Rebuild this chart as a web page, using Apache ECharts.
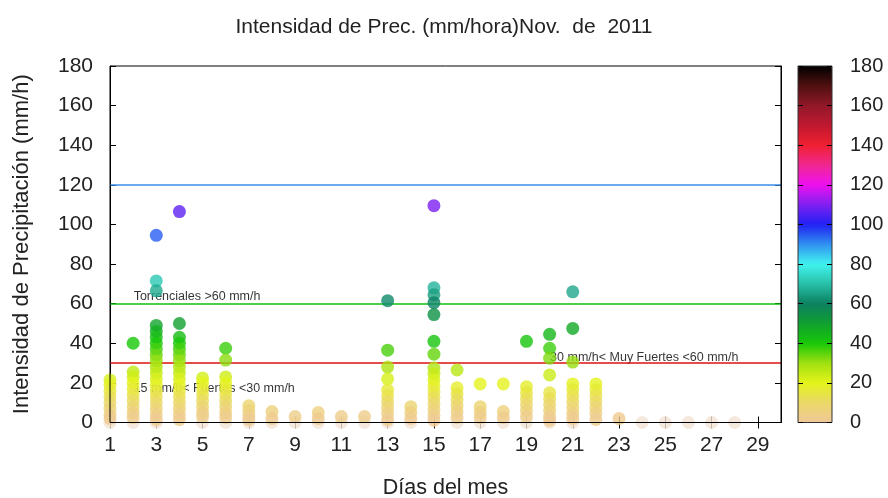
<!DOCTYPE html>
<html>
<head>
<meta charset="utf-8">
<script src="https://cdn.jsdelivr.net/npm/echarts@6/dist/echarts.min.js"></script>
<style>
html,body{margin:0;padding:0;background:#fff;}
#chart{width:888px;height:498px;}
</style>
</head>
<body>
<div id="chart"></div>
<script>
// ---- data (mm/h), one array per day of the month ----
const day01 = [21.5, 19, 16, 13, 10, 7, 4, 2];
const day02 = [40, 25.5, 23, 20, 17, 14, 11, 8, 5, 2.5];
const day03 = [94.5, 71.5, 66.5, 49, 46, 43, 40, 37, 34, 31, 28, 25, 22, 19, 16, 13, 10, 7, 4, 1.5];
const day04 = [106.5, 50, 43, 40, 37, 34, 31, 28, 25, 22, 19, 16, 13, 10, 7, 4, 1.5];
const day05 = [22.5, 20, 17, 14, 11, 8, 5, 3];
const day06 = [37.5, 31.5, 23, 20, 17, 14, 11, 8, 5, 2.5];
const day07 = [8.5, 6, 3.5, 1.5];
const day08 = [5.5, 2];
const day09 = [3];
const day10 = [5, 2];
const day11 = [3];
const day12 = [3];
const day13 = [61.5, 36.5, 28, 22, 16.5, 13.5, 10.5, 7.5, 4.5, 1.5];
const day14 = [8, 5, 2];
const day15 = [109.5, 68, 64.5, 60.5, 54.5, 41, 34.5, 27.5, 24.5, 21.5, 18.5, 15.5, 12.5, 9.5, 6.5, 3.5, 1];
const day16 = [26.5, 17.5, 14.5, 11.5, 8.5, 5.5, 2.5];
const day17 = [19.5, 8, 5, 2.5];
const day18 = [19.5, 5.5, 2.5];
const day19 = [41, 18, 15, 12, 9, 6, 3];
const day20 = [44.5, 37.5, 32.5, 24, 15, 12, 9, 6, 3, 1];
const day21 = [66, 47.5, 30.5, 19.5, 16.5, 13.5, 10.5, 7.5, 4.5, 2];
const day22 = [19.5, 16.5, 13.5, 10.5, 7.5, 4.5, 1.5];
const day23 = [2];
const day24 = [];
const day25 = [];
const day26 = [];
const day27 = [];
const day28 = [];
const dayValues = [day01, day02, day03, day04, day05, day06, day07, day08, day09, day10,
  day11, day12, day13, day14, day15, day16, day17, day18, day19, day20,
  day21, day22, day23, day24, day25, day26, day27, day28];
// days with a zero-intensity record
const zeroDays = [1, 2, 3, 5, 6, 7, 8, 9, 10, 11, 12, 13, 14, 16, 17, 18, 19, 20, 21, 24, 25, 26, 27, 28];

const xTicks = [1, 3, 5, 7, 9, 11, 13, 15, 17, 19, 21, 23, 25, 27, 29];
const thresholds = [120, 60, 30];
const bandLabels = ['Torrenciales >60 mm/h', '30 mm/h< Muy Fuertes <60 mm/h', '15 mm/h< Fuertes <30 mm/h'];
const bandLabelDay = [2, 20, 2];
const bandLabelValue = [63.4, 32.6, 17.2];

const palette = ['#f0c898', '#ead868', '#e4f41a', '#a0e010', '#18c808', '#10a030', '#0c8060',
  '#28c0a8', '#40f4f0', '#3090f0', '#2020f4', '#8020f0', '#f010f0', '#f02890', '#f02030',
  '#c01830', '#901828', '#501010', '#000000'];
const lineColors = ['#3a8ee6', '#10c010', '#dd1111'];

const FONT = "'Liberation Sans', Arial, sans-serif";

const points = [];
dayValues.forEach((vals, i) => vals.forEach(v => points.push([i + 1, v])));
const zeroPoints = zeroDays.map(d => [d, 0]);
const annot = bandLabels.map((t, i) => [bandLabelDay[i], bandLabelValue[i], t]);

const G = {left: 110, top: 66, width: 671, height: 356.5};
const CB = {left: 798, top: 66, width: 34, height: 356.5};

const chart = echarts.init(document.getElementById('chart'), null, {renderer: 'canvas'});
const tickStyle = {lineStyle: {color: '#000', width: 1}};
const gridBase = {show: true, borderWidth: 1, z: 10, backgroundColor: 'transparent',
  containLabel: false, outerBoundsMode: 'none'};
chart.setOption({
  animation: false,
  backgroundColor: '#fff',
  title: {
    text: 'Intensidad de Prec. (mm/hora)Nov.  de  2011',
    left: 'center', top: 12,
    textStyle: {fontFamily: FONT, fontSize: 21, fontWeight: 'normal', color: '#222'}
  },
  grid: [
    Object.assign({}, gridBase, {borderColor: '#000'}, G),
    Object.assign({}, gridBase, {borderColor: '#333'}, CB)
  ],
  xAxis: [
    {gridIndex: 0, type: 'value', min: 1, max: 30, position: 'bottom',
     name: 'Días del mes', nameLocation: 'middle', nameGap: 55,
     nameTextStyle: {fontFamily: FONT, fontSize: 21.5, color: '#222'},
     axisLine: {show: true, lineStyle: {color: '#000'}},
     axisTick: {inside: true, length: 6, customValues: xTicks, lineStyle: {color: '#000'}},
     axisLabel: {customValues: xTicks, margin: 12, fontFamily: FONT, fontSize: 21, color: '#222'},
     splitLine: {show: false}},
    {gridIndex: 0, type: 'value', min: 1, max: 30, position: 'top',
     axisLine: {show: true, lineStyle: {color: '#000'}},
     axisTick: {inside: true, length: 6, customValues: xTicks, lineStyle: {color: '#000'}},
     axisLabel: {show: false}, splitLine: {show: false}},
    {gridIndex: 1, type: 'value', min: 0, max: 1, show: false}
  ],
  yAxis: [
    {gridIndex: 0, type: 'value', min: 0, max: 180, interval: 20, position: 'left',
     name: 'Intensidad de Precipitación (mm/h)', nameLocation: 'middle', nameGap: 77,
     nameTextStyle: {fontFamily: FONT, fontSize: 22, color: '#222'},
     axisLine: {show: true, lineStyle: {color: '#000'}},
     axisTick: Object.assign({inside: true, length: 6}, tickStyle),
     axisLabel: {margin: 17, fontFamily: FONT, fontSize: 21, color: '#222'},
     splitLine: {show: false}},
    {gridIndex: 0, type: 'value', min: 0, max: 180, interval: 20, position: 'right',
     axisLine: {show: true, lineStyle: {color: '#000'}},
     axisTick: Object.assign({inside: true, length: 6}, tickStyle),
     axisLabel: {show: false}, splitLine: {show: false}},
    {gridIndex: 1, type: 'value', min: 0, max: 180, interval: 20, position: 'left', z: 10,
     axisLine: {show: false},
     axisTick: Object.assign({inside: true, length: 5}, tickStyle),
     axisLabel: {show: false}, splitLine: {show: false}},
    {gridIndex: 1, type: 'value', min: 0, max: 180, interval: 20, position: 'right', z: 10,
     axisLine: {show: false},
     axisTick: Object.assign({inside: true, length: 5}, tickStyle),
     axisLabel: {margin: 18, fontFamily: FONT, fontSize: 20, color: '#222'},
     splitLine: {show: false}}
  ],
  visualMap: {
    type: 'continuous', min: 0, max: 180, seriesIndex: 0,
    left: CB.left, top: CB.top, itemWidth: CB.width, itemHeight: CB.height,
    padding: 0, calculable: false, realtime: false, hoverLink: false,
    text: null, showLabel: false,
    textStyle: {color: 'transparent'},
    inRange: {color: palette}
  },
  series: [
    {type: 'scatter', xAxisIndex: 0, yAxisIndex: 0, data: points, symbol: 'circle', symbolSize: 13, z: 5},
    {type: 'scatter', xAxisIndex: 0, yAxisIndex: 0, data: zeroPoints, symbol: 'circle', symbolSize: 13, z: 4,
     itemStyle: {color: '#f2e3d6'}},
    {type: 'scatter', xAxisIndex: 0, yAxisIndex: 0, data: annot, symbolSize: 1, z: 2,
     itemStyle: {color: 'transparent'},
     label: {show: true, position: 'right', distance: 0, formatter: p => p.value[2],
             fontFamily: FONT, fontSize: 12.5, color: '#000'},
     markLine: {silent: true, symbol: 'none', label: {show: false},
       data: thresholds.map((t, i) => ({yAxis: t, lineStyle: {color: lineColors[i], width: 1.5, type: 'solid'}}))}}
  ]
});
</script>
</body>
</html>
